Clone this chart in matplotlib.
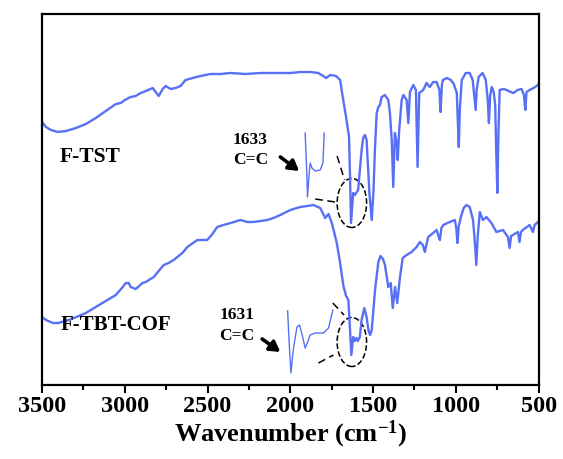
import matplotlib
matplotlib.use("Agg")
import matplotlib.pyplot as plt
from matplotlib.patches import Ellipse
from matplotlib.ticker import MultipleLocator

plt.rcParams['font.family'] = ['Liberation Serif', 'DejaVu Serif']
plt.rcParams['font.weight'] = 'bold'
plt.rcParams['mathtext.fontset'] = 'custom'
plt.rcParams['mathtext.rm'] = 'Liberation Serif:bold'
plt.rcParams['mathtext.default'] = 'rm'

BLUE = '#5870F5'

# F-TST spectrum (wavenumber, transmittance a.u.)
tst_wn = [3500, 3476, 3446, 3404, 3355, 3295, 3235, 3175, 3114, 3054, 3024, 3000,
          2964, 2934, 2904, 2873, 2831, 2795, 2771, 2753, 2723, 2693, 2663, 2633,
          2590, 2542, 2482, 2422, 2361, 2271, 2181, 2090, 2000, 1940, 1880, 1831,
          1801, 1783, 1759, 1723, 1699, 1683, 1663, 1645, 1639, 1633, 1620, 1610,
          1590, 1569, 1560, 1549, 1539, 1529, 1522, 1508, 1498, 1488, 1478, 1468,
          1458, 1448, 1428, 1408, 1398, 1387, 1378, 1368, 1357, 1351, 1342, 1327,
          1317, 1297, 1287, 1277, 1257, 1241, 1231, 1221, 1197, 1177, 1157, 1137,
          1116, 1099, 1092, 1084, 1078, 1054, 1030, 1012, 994, 988, 982, 976,
          964, 940, 916, 898, 886, 880, 874, 862, 838, 819, 807, 800,
          792, 783, 771, 762, 756, 749, 742, 735, 711, 693, 669, 651,
          627, 603, 588, 580, 573, 554, 530, 504, 500]
tst_t = [263, 258, 255, 253, 254, 257, 261, 267, 274, 281, 282, 285,
         288, 289, 292, 294, 297, 289, 296, 299, 296, 297, 299, 305,
         307, 309, 311, 311, 312, 311, 312, 312, 312, 313, 313, 312,
         309, 307, 310, 309, 305, 288, 268, 248, 208, 162, 192, 190,
         195, 235, 247, 250, 245, 215, 192, 165, 192, 238, 272, 278,
         280, 288, 290, 285, 272, 245, 198, 252, 242, 225, 255, 285,
         290, 285, 262, 293, 300, 295, 218, 292, 295, 302, 298, 303,
         303, 295, 273, 300, 305, 307, 305, 301, 292, 265, 238, 275,
         305, 312, 312, 305, 285, 275, 295, 308, 312, 305, 285, 262,
         290, 298, 293, 280, 235, 192, 255, 295, 296, 295, 293, 292,
         295, 296, 290, 275, 293, 295, 297, 300, 301]

# F-TBT-COF spectrum
cof_wn = [3500, 3476, 3434, 3404, 3337, 3235, 3145, 3054, 3012, 2994, 2976, 2964,
          2934, 2893, 2873, 2825, 2765, 2735, 2705, 2652, 2622, 2596, 2562, 2502,
          2470, 2442, 2404, 2361, 2301, 2259, 2223, 2181, 2140, 2102, 2060, 2000,
          1940, 1898, 1860, 1819, 1789, 1769, 1749, 1719, 1699, 1679, 1663, 1649,
          1639, 1631, 1620, 1610, 1600, 1592, 1580, 1569, 1553, 1539, 1528, 1518,
          1508, 1488, 1468, 1455, 1440, 1428, 1408, 1393, 1381, 1367, 1354, 1337,
          1321, 1297, 1267, 1237, 1217, 1199, 1187, 1167, 1137, 1116, 1105, 1096,
          1087, 1076, 1036, 1006, 997, 990, 982, 966, 952, 936, 916, 896,
          886, 876, 867, 855, 836, 815, 785, 755, 715, 685, 675, 666,
          655, 625, 615, 606, 596, 554, 534, 524, 504, 500]
cof_t = [68, 65, 62, 62, 65, 72, 81, 90, 98, 102, 102, 98,
         96, 102, 103, 108, 120, 122, 125, 132, 138, 141, 145, 145,
         151, 158, 160, 162, 165, 163, 163, 164, 165, 167, 170, 175,
         178, 179, 180, 177, 167, 171, 162, 142, 122, 99, 89, 85,
         55, 30, 48, 44, 47, 44, 48, 65, 77, 68, 55, 50,
         55, 95, 123, 129, 126, 120, 98, 102, 77, 98, 82, 108,
         127, 130, 133, 138, 143, 140, 133, 148, 152, 155, 149, 145,
         157, 160, 163, 165, 157, 142, 159, 170, 177, 180, 178, 165,
         145, 120, 150, 173, 165, 168, 162, 153, 155, 148, 137, 149,
         150, 153, 143, 153, 155, 160, 153, 160, 163, 164]

# magnified insets of the C=C region
inset_tst_wn = [1910, 1901, 1896, 1889, 1880, 1869, 1849, 1819, 1803, 1795]
inset_tst_t = [252, 215, 188, 205, 222, 217, 214, 215, 222, 252]
inset_cof_wn = [2016, 2006, 1996, 1982, 1960, 1944, 1928, 1910, 1895, 1880, 1849, 1799, 1769, 1743]
inset_cof_t = [74, 40, 12, 35, 58, 60, 50, 37, 43, 50, 52, 52, 57, 75]

xticks = [3500, 3000, 2500, 2000, 1500, 1000, 500]

fig = plt.figure(figsize=(5.63, 4.59), dpi=100)
ax = fig.add_axes([0.0746, 0.1612, 0.8820, 0.8083])

ax.plot(tst_wn, tst_t, color=BLUE, lw=1.7)
ax.plot(cof_wn, cof_t, color=BLUE, lw=1.7)
ax.plot(inset_tst_wn, inset_tst_t, color=BLUE, lw=1.0)
ax.plot(inset_cof_wn, inset_cof_t, color=BLUE, lw=1.0)

# dashed ellipses and guide lines
for cy in (182, 43):
    ax.add_patch(Ellipse((1628, cy), 178, 49, fill=False, ls='--', lw=1.1, color='k'))
dash = dict(color='k', lw=1.1, ls=(0, (5, 3)))
ax.plot([1717, 1672], [229, 205], **dash)
ax.plot([1849, 1729], [186, 183], **dash)
ax.plot([1743, 1675], [82, 70], **dash)
ax.plot([1830, 1739], [22, 30], **dash)

arrow = dict(arrowstyle='-|>,head_width=0.35,head_length=0.6', lw=2.6, color='k', shrinkA=0, shrinkB=0)
ax.annotate('', xy=(1946, 214), xytext=(2060, 228), arrowprops=arrow)
ax.annotate('', xy=(2060, 33), xytext=(2170, 46), arrowprops=arrow)

ax.text(2241, 245, '1633', ha='center', va='center', fontsize=12.5, fontweight='bold')
ax.text(2241, 225, 'C=C', ha='center', va='center', fontsize=12.5, fontweight='bold')
ax.text(2324, 70, '1631', ha='center', va='center', fontsize=12.5, fontweight='bold')
ax.text(2324, 49, 'C=C', ha='center', va='center', fontsize=12.5, fontweight='bold')
ax.text(3392, 228, 'F-TST', ha='left', va='center', fontsize=15.5, fontweight='bold')
ax.text(3390, 60, 'F-TBT-COF', ha='left', va='center', fontsize=15, fontweight='bold')

ax.set_xlim(3500, 500)
ax.set_ylim(0, 371)
ax.set_xticks(xticks)
ax.xaxis.set_minor_locator(MultipleLocator(250))
ax.set_yticks([])
ax.tick_params(axis='x', which='major', direction='out', length=6, width=1.5, labelsize=17.5, pad=2)
ax.tick_params(axis='x', which='minor', direction='out', length=3.5, width=1.5)
for s in ax.spines.values():
    s.set_linewidth(1.6)
ax.set_xlabel('Wavenumber (cm$^{-1}$)', fontsize=19, fontweight='bold', labelpad=1)

fig.savefig('out.png', dpi=100)
